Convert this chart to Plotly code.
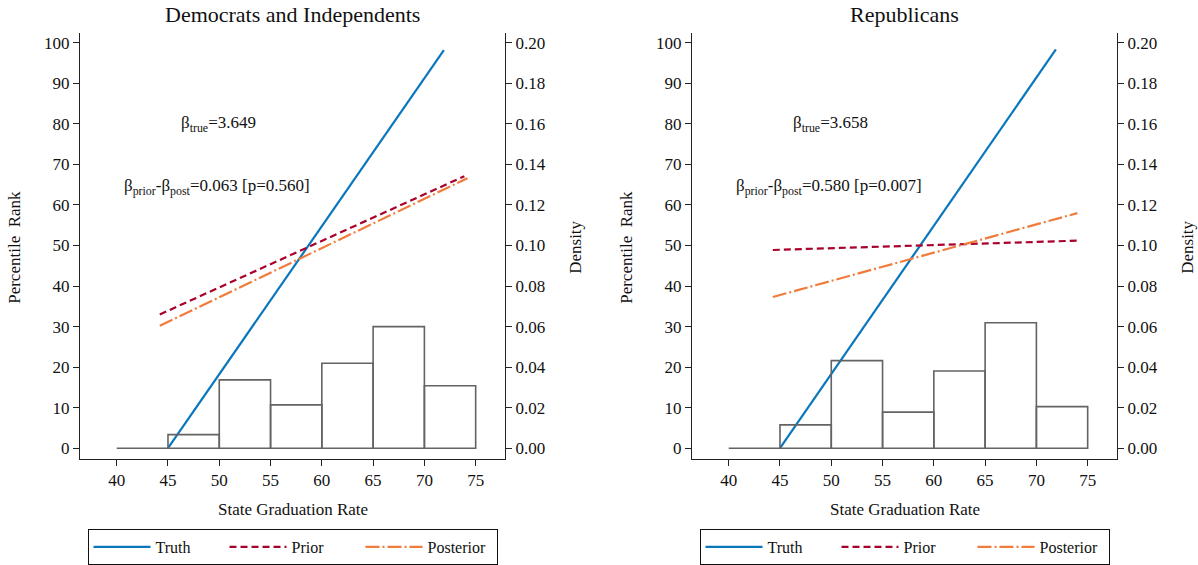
import plotly.graph_objects as go

# ---- data -------------------------------------------------------------
bin_edges = [40, 45, 50, 55, 60, 65, 70, 75]
dem_density = [0.0, 0.0067, 0.0337, 0.0214, 0.0419, 0.0600, 0.0308]
rep_density = [0.0, 0.0115, 0.0432, 0.0178, 0.0381, 0.0619, 0.0205]

dem_truth_x = [45, 71.9]
dem_truth_y = [0, 98.2]
dem_prior_x = [44.2, 73.9]
dem_prior_y = [33.0, 67.1]
dem_post_x = [44.2, 74.2]
dem_post_y = [30.2, 66.6]

rep_truth_x = [45, 71.9]
rep_truth_y = [0, 98.4]
rep_prior_x = [44.3, 74.0]
rep_prior_y = [48.9, 51.2]
rep_post_x = [44.3, 74.0]
rep_post_y = [37.3, 58.0]

dem_beta_true = "3.649"
dem_diff = "0.063"
dem_p = "0.560"
rep_beta_true = "3.658"
rep_diff = "0.580"
rep_p = "0.007"

panel_titles = ["Democrats and Independents", "Republicans"]
x_ticks = [40, 45, 50, 55, 60, 65, 70, 75]
y_ticks = list(range(0, 101, 10))
d_ticks = [i / 100 for i in range(0, 21, 2)]

# ---- styling ----------------------------------------------------------
FONT = "Liberation Serif"
C_TRUTH = "#0A77BD"
C_PRIOR = "#A8002B"
C_POST = "#F07B3A"
C_HIST = "#636363"
AX = "#222222"

W, H = 1198, 565
PLOT_TOP, PLOT_BOT = 33, 463
panels = [(80, 505), (692, 1117)]


def hist_path(edges, dens):
    xs, ys = [], []
    for lo, hi, d in zip(edges[:-1], edges[1:], dens):
        xs += [lo, lo, hi, hi, lo, None]
        ys += [0, d, d, 0, 0, None]
    return xs, ys


fig = go.Figure()

datasets = [
    (dem_density, dem_truth_x, dem_truth_y, dem_prior_x, dem_prior_y, dem_post_x, dem_post_y),
    (rep_density, rep_truth_x, rep_truth_y, rep_prior_x, rep_prior_y, rep_post_x, rep_post_y),
]

for i, (dens, tx, ty, px, py, qx, qy) in enumerate(datasets):
    xa = "x" if i == 0 else "x2"
    ya_rank = "y" if i == 0 else "y3"
    ya_dens = "y2" if i == 0 else "y4"
    leg = "legend" if i == 0 else "legend2"
    hx, hy = hist_path(bin_edges, dens)
    fig.add_trace(go.Scatter(x=hx, y=hy, mode="lines", xaxis=xa, yaxis=ya_dens,
                             line=dict(color=C_HIST, width=1.6), showlegend=False,
                             hoverinfo="skip"))
    fig.add_trace(go.Scatter(x=tx, y=ty, mode="lines", name="Truth", xaxis=xa, yaxis=ya_rank,
                             line=dict(color=C_TRUTH, width=2.2), legend=leg))
    fig.add_trace(go.Scatter(x=px, y=py, mode="lines", name="Prior", xaxis=xa, yaxis=ya_rank,
                             line=dict(color=C_PRIOR, width=2.2, dash="7px,4px"), legend=leg))
    fig.add_trace(go.Scatter(x=qx, y=qy, mode="lines", name="Posterior", xaxis=xa, yaxis=ya_rank,
                             line=dict(color=C_POST, width=2.2, dash="14px,3px,2px,3px"), legend=leg))

x_range = [36.42, 77.86]
y_range = [-2.64, 102.5]
d_range = [v / 500 for v in y_range]
ydom = [1 - PLOT_BOT / H, 1 - PLOT_TOP / H]

tickfont = dict(family=FONT, size=17, color="#111")
common_x = dict(range=x_range, tickvals=x_ticks, ticks="outside", ticklen=6, tickwidth=1,
                tickcolor=AX, showline=True, linecolor=AX, linewidth=1, showgrid=False,
                zeroline=False, tickfont=tickfont, fixedrange=True)
common_y = dict(range=y_range, tickvals=y_ticks, ticks="outside", ticklen=6, tickwidth=1,
                tickcolor=AX, showline=True, linecolor=AX, linewidth=1, showgrid=False,
                zeroline=False, tickfont=tickfont, domain=ydom)
common_d = dict(range=d_range, tickvals=d_ticks, tickformat=".2f", ticks="outside", ticklen=6,
                tickwidth=1, tickcolor=AX, showline=True, linecolor=AX, linewidth=1,
                showgrid=False, zeroline=False, tickfont=tickfont, side="right")

fig.update_layout(
    width=W, height=H,
    margin=dict(l=0, r=0, t=0, b=0),
    paper_bgcolor="white", plot_bgcolor="white",
    font=dict(family=FONT, color="#111"),
    xaxis=dict(domain=[panels[0][0] / W, panels[0][1] / W], anchor="y", **common_x),
    xaxis2=dict(domain=[panels[1][0] / W, panels[1][1] / W], anchor="y3", **common_x),
    yaxis=dict(anchor="x", **common_y),
    yaxis2=dict(anchor="x", overlaying="y", **common_d),
    yaxis3=dict(anchor="x2", **common_y),
    yaxis4=dict(anchor="x2", overlaying="y3", **common_d),
)

legend_style = dict(orientation="h", xanchor="center", yanchor="top", y=1 - 534 / H,
                    bordercolor="#111", borderwidth=1, bgcolor="white",
                    font=dict(family=FONT, size=16, color="#111"),
                    itemwidth=57, entrywidth=64, entrywidthmode="pixels",
                    itemclick=False, itemdoubleclick=False)
fig.update_layout(
    legend=dict(x=(panels[0][0] + panels[0][1]) / 2 / W, **legend_style),
    legend2=dict(x=(panels[1][0] + panels[1][1]) / 2 / W, **legend_style),
)

annots = []
texts = [
    (dem_beta_true, dem_diff, dem_p, "x", "y"),
    (rep_beta_true, rep_diff, rep_p, "x2", "y3"),
]
for bt, df, pv, xr, yr in texts:
    annots.append(dict(x=49.9, y=80, xref=xr, yref=yr, showarrow=False,
                       xanchor="center", yanchor="middle",
                       text=f"β<sub>true</sub>=" + bt,
                       font=dict(family=FONT, size=17, color="#111")))
    annots.append(dict(x=49.8, y=64.5, xref=xr, yref=yr, showarrow=False,
                       xanchor="center", yanchor="middle",
                       text=f"β<sub>prior</sub>-β<sub>post</sub>={df} [p={pv}]",
                       font=dict(family=FONT, size=17, color="#111")))


def paper_text(px, py, text, size, angle=0):
    return dict(x=px / W, y=1 - py / H, xref="paper", yref="paper", showarrow=False,
                xanchor="center", yanchor="middle", textangle=angle, text=text,
                font=dict(family=FONT, size=size, color="#111"))


for (l, r), title in zip(panels, panel_titles):
    cx = (l + r) / 2
    annots.append(paper_text(cx, 15, title, 22))
    annots.append(paper_text(cx, 514, "State Graduation Rate", 17))
    annots.append(paper_text(l - 65, 250, "Percentile\u00a0\u00a0Rank", 17, -90))
    annots.append(paper_text(r + 71, 250, "Density", 17, -90))

fig.update_layout(annotations=annots)

fig.write_html("out.html")
